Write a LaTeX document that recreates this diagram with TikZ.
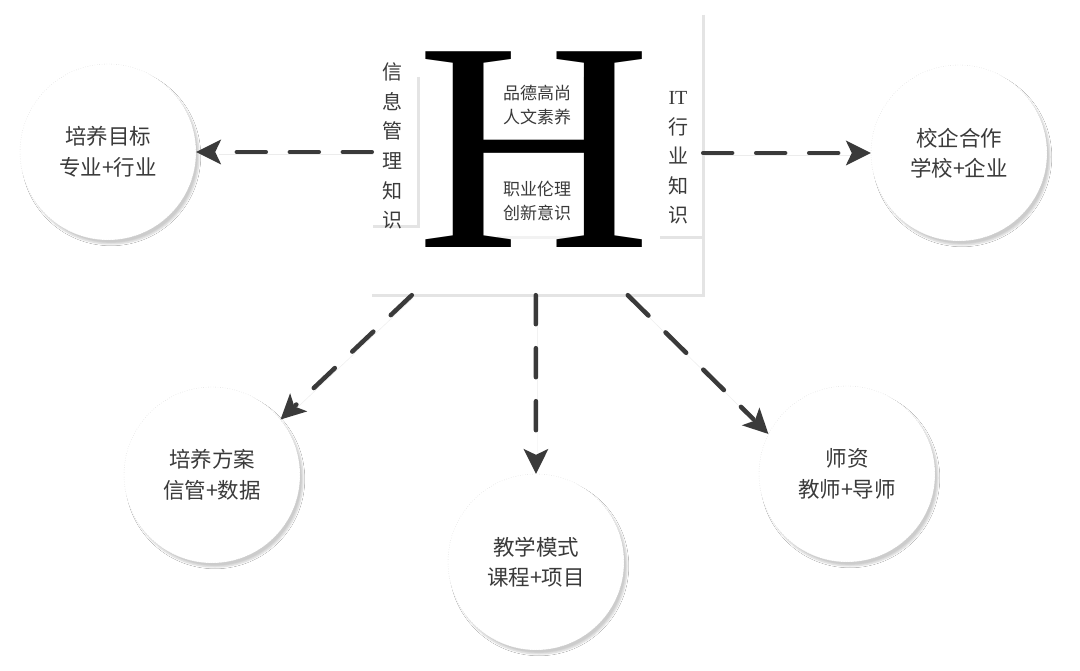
\documentclass[tikz,border=0pt]{standalone}
\usepackage{fontspec}
\newfontfamily\cjk{Noto Sans CJK SC}
\newfontfamily\hfont{Liberation Serif}
\usepackage{tikz}
\usetikzlibrary{arrows.meta, positioning, calc, shadows.blur, decorations.markings}
\definecolor{inkcolor}{HTML}{3A3A3A}
\definecolor{arrowcolor}{HTML}{3A3A3A}
\definecolor{framecolor}{HTML}{E4E4E4}

\begin{document}
\begin{tikzpicture}[x=1pt, y=-1pt, font=\cjk,
    topic/.style={circle, minimum size=176pt, inner sep=0pt, draw=gray!40, dotted, fill=white,
        text=inkcolor, align=center, font=\cjk\fontsize{21.5}{30.5}\selectfont,
        blur shadow={shadow xshift=3pt, shadow yshift=-4pt, shadow blur steps=6, shadow opacity=20}},
    flowarrow/.style={draw=arrowcolor, line width=4.5pt, line cap=round, dash pattern=on 29pt off 24pt,
        shorten >=21pt,
        preaction={draw=gray!15, transform canvas={shift={(1.5pt,-2.5pt)}}},
        decoration={markings, mark=at position 1 with {
            \fill[arrowcolor] (0pt,0pt) -- (-25pt,12.5pt) -- (-19pt,0pt) -- (-25pt,-12.5pt) -- cycle;}},
        postaction={decorate}},
    frame/.style={draw=framecolor, line width=3pt},
    side/.style={text=inkcolor, align=center, inner sep=0pt, font=\cjk\fontsize{20}{29.6}\selectfont},
    inner/.style={text=inkcolor, align=center, inner sep=0pt, font=\cjk\fontsize{17}{24}\selectfont}]

    \useasboundingbox[fill=white] (0,0) rectangle (1080,671);

    % The H panel
    \node[minimum width=331pt, minimum height=280pt, inner sep=0pt] (hbox) at (537.5,155) {};
    \draw[frame] (hbox.north east) -- (hbox.south east) -- (hbox.south west);
    \draw[frame] (418,77) -- (418,227) -- (373,227);
    \draw[frame] (660,238) -- (703,238);
    \draw[frame, draw=gray!10] (584,77) -- (584,143);
    \draw[frame, draw=gray!10] (587,173) -- (587,238) -- (497,238);

    \node[inner sep=0pt, anchor=base, font=\hfont\fontsize{299}{299}\selectfont] (hletter) at (534,248) {\scalebox{1.09}[1]{H}};

    % Texts round and inside the H
    \node[side] (infoknow) at (392,146) {信\\息\\管\\理\\知\\识};
    \node[side] (itknow) at (678,158) {{\hfont IT}\\行\\业\\知\\识};
    \node[inner] (moral) at (537,105) {品德高尚\\人文素养};
    \node[inner] (ethics) at (537,201) {职业伦理\\创新意识};

    % The five topics
    \node[topic] (goal) at (108,152) {培养目标\\专业+行业};
    \node[topic] (coop) at (959,153) {校企合作\\学校+企业};
    \node[topic] (plan) at (212,475) {培养方案\\信管+数据};
    \node[topic] (mode) at (536,562) {教学模式\\课程+项目};
    \node[topic] (teacher) at (847,474) {师资\\教师+导师};

    % Arrows out of the panel
    \coordinate (s1) at ($(hbox.south west)+(40,0)$);
    \coordinate (s2) at ($(hbox.south west)+(164,0)$);
    \coordinate (s3) at ($(hbox.south west)+(256,0)$);
    \draw[flowarrow] (hbox.west |- goal) -- (goal.east);
    \draw[flowarrow] (hbox.east |- coop) -- (coop.west);
    \draw[flowarrow] (s1) -- (plan.39);
    \draw[flowarrow] (s2) -- (mode.north);
    \draw[flowarrow] (s3) -- (teacher.153);

\end{tikzpicture}
\end{document}
